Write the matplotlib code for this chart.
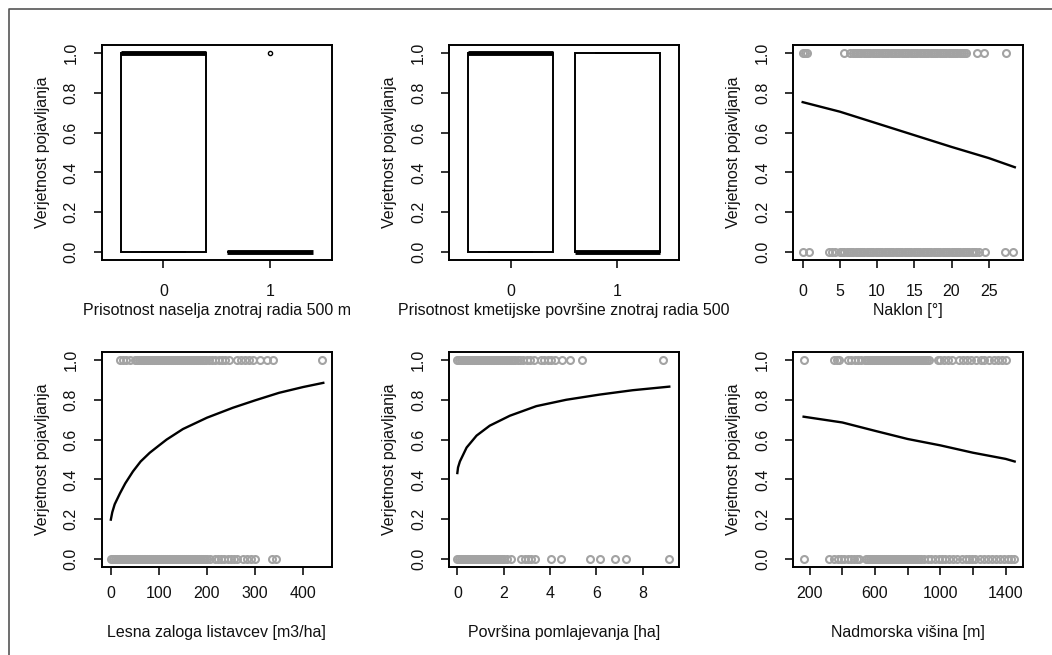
import numpy as np
import matplotlib
matplotlib.use("Agg")
import matplotlib.pyplot as plt
from matplotlib.lines import Line2D

plt.rcParams['font.family'] = ['Liberation Sans', 'DejaVu Sans']
plt.rcParams['font.size'] = 11.5

# ---- data ----
ylab = "Verjetnost pojavljanja"

# boxplots: counts of [absent (0), present (1)] per category 0 / 1
naselje_counts = [[45, 95], [20, 1]]
kmetije_counts = [[40, 100], [60, 40]]
box_cats = ["0", "1"]

# Naklon [deg]
naklon_y1 = [0.0, 0.3, 0.6, 5.5, 6.4, 6.7, 7.0, 7.3, 7.6, 7.9, 8.2, 8.5, 8.8, 9.1,
             9.4, 9.7, 10.0, 10.3, 10.6, 10.9, 11.2, 11.5, 11.8, 12.1, 12.4, 12.7,
             13.0, 13.3, 13.6, 13.9, 14.2, 14.5, 14.8, 15.1, 15.4, 15.7, 16.0, 16.3,
             16.6, 16.9, 17.2, 17.5, 17.8, 18.1, 18.4, 18.7, 19.0, 19.3, 19.6, 19.9,
             20.2, 20.5, 20.8, 21.1, 21.4, 21.7, 22.0, 23.4, 24.3, 27.3]
naklon_y0 = [0.0, 0.8, 3.5, 3.9, 4.3, 5.0, 5.3, 5.6, 5.9, 6.2, 6.5, 6.8, 7.1, 7.4,
             7.7, 8.0, 8.3, 8.6, 8.9, 9.2, 9.5, 9.8, 10.1, 10.4, 10.7, 11.0, 11.3,
             11.6, 11.9, 12.2, 12.5, 12.8, 13.1, 13.4, 13.7, 14.0, 14.3, 14.6, 14.9,
             15.2, 15.5, 15.8, 16.1, 16.4, 16.7, 17.0, 17.3, 17.6, 17.9, 18.2, 18.5,
             18.8, 19.1, 19.4, 19.7, 20.0, 20.3, 20.6, 20.9, 21.2, 21.5, 21.8, 22.1,
             22.4, 22.7, 23.0, 23.3, 23.7, 24.5, 27.2, 28.3]
naklon_cx = [0, 5, 10, 15, 20, 25, 28.5]
naklon_cy = [0.753, 0.705, 0.646, 0.587, 0.528, 0.472, 0.426]

# Lesna zaloga listavcev [m3/ha]
lesna_y1 = [19, 25, 32, 40, 50, 54, 58, 62, 66, 70, 74, 78, 82, 86, 90, 94, 98, 102,
            106, 110, 114, 118, 122, 126, 130, 134, 138, 142, 146, 150, 154, 158,
            162, 166, 170, 174, 178, 182, 186, 190, 194, 198, 204, 210, 217, 224,
            231, 238, 245, 262, 270, 280, 288, 296, 310, 324, 338, 440]
lesna_y0 = [0, 4, 8, 12, 16, 20, 24, 28, 32, 36, 40, 44, 48, 52, 56, 60, 64, 68, 72,
            76, 80, 84, 88, 92, 96, 100, 104, 108, 112, 116, 120, 124, 128, 132, 136,
            140, 144, 148, 152, 156, 160, 164, 168, 172, 176, 180, 184, 188, 192, 196,
            200, 206, 216, 222, 229, 236, 243, 250, 256, 262, 276, 284, 292, 300,
            335, 343]
lesna_cx = [0, 3, 8, 19, 30, 46, 62, 81, 100, 116, 150, 200, 254, 300, 350, 400, 442]
lesna_cy = [0.198, 0.235, 0.275, 0.33, 0.38, 0.44, 0.49, 0.534, 0.57, 0.60, 0.653,
            0.71, 0.76, 0.797, 0.835, 0.864, 0.885]

# Povrsina pomlajevanja [ha]
povrsina_y1 = [0.0, 0.08, 0.16, 0.24, 0.32, 0.4, 0.48, 0.56, 0.64, 0.72, 0.8, 0.88,
               0.96, 1.04, 1.12, 1.2, 1.28, 1.36, 1.44, 1.52, 1.6, 1.68, 1.76, 1.84,
               1.92, 2.0, 2.08, 2.16, 2.24, 2.32, 2.4, 2.5, 2.6, 2.7, 2.85, 3.0, 3.15,
               3.3, 3.6, 3.75, 3.9, 4.05, 4.2, 4.5, 4.85, 5.4, 8.86]
povrsina_y0 = [0.0, 0.08, 0.16, 0.24, 0.32, 0.4, 0.48, 0.56, 0.64, 0.72, 0.8, 0.88,
               0.96, 1.04, 1.12, 1.2, 1.28, 1.36, 1.44, 1.52, 1.6, 1.68, 1.76, 1.84,
               1.92, 2.0, 2.15, 2.3, 2.77, 2.9, 3.05, 3.2, 3.34, 4.06, 4.46, 5.73,
               6.14, 6.8, 7.3, 9.12]
povrsina_cx = [0, 0.03, 0.11, 0.4, 0.83, 1.4, 2.27, 3.41, 4.7, 6.14, 7.57, 9.15]
povrsina_cy = [0.432, 0.46, 0.49, 0.56, 0.62, 0.67, 0.72, 0.768, 0.80, 0.826, 0.848, 0.866]

# Nadmorska visina [m]
visina_y1 = [163, 352, 365, 379, 434, 455, 475, 495, 515, 536, 546, 558, 570, 582,
             594, 606, 618, 630, 642, 654, 666, 678, 690, 702, 714, 726, 738, 750,
             762, 774, 786, 798, 810, 822, 834, 846, 858, 870, 882, 894, 906, 918,
             932, 983, 1000, 1020, 1045, 1074, 1115, 1140, 1165, 1190, 1217, 1247,
             1270, 1300, 1330, 1355, 1380, 1400]
visina_y0 = [163, 318, 352, 372, 392, 412, 432, 452, 470, 490, 505, 546, 558, 570,
             582, 594, 606, 618, 630, 642, 654, 666, 678, 690, 702, 714, 726, 738,
             750, 762, 774, 786, 798, 810, 822, 834, 846, 858, 870, 881, 902, 925,
             945, 965, 990, 1010, 1030, 1055, 1080, 1105, 1135, 1156, 1175, 1195,
             1215, 1240, 1265, 1290, 1315, 1340, 1365, 1390, 1415, 1435, 1451]
visina_cx = [163, 400, 600, 800, 1000, 1200, 1400, 1455]
visina_cy = [0.715, 0.686, 0.644, 0.603, 0.571, 0.534, 0.503, 0.49]

# ---- figure ----
W, H = 1052, 655
fig = plt.figure(figsize=(W / 100, H / 100), dpi=100)
fig.add_artist(Line2D([9 / W, 9 / W, 1], [0, 1 - 9 / H, 1 - 9 / H],
                      transform=fig.transFigure, color='#555555', lw=1.2))


def add_ax(left, top):
    return fig.add_axes([left / W, 1 - (top + 215) / H, 230 / W, 215 / H])


def style(ax, xlabel, toprow):
    for s in ax.spines.values():
        s.set_linewidth(1.4)
    ax.set_ylim(-0.04, 1.04)
    yt = [0, 0.2, 0.4, 0.6, 0.8, 1.0]
    ax.set_yticks(yt)
    ax.set_yticklabels(["%.1f" % v for v in yt], rotation=90, va='center')
    ax.tick_params(direction='out', length=6, width=1.2, labelsize=11.5,
                   colors='#111111')
    ax.tick_params(axis='y', pad=10.5)
    ax.tick_params(axis='x', pad=11.5 if toprow else 8.0)
    ax.set_ylabel(ylab, fontsize=11.5, color='#111111')
    ax.yaxis.set_label_coords(-0.225, 0.5)
    ax.set_xlabel(xlabel, fontsize=11.5, color='#111111')
    ax.xaxis.set_label_coords(0.5, -0.2 if toprow else -0.268)


def boxpanel(ax, counts, xlabel):
    data = [np.repeat([0, 1], c) for c in counts]
    ax.boxplot(data, positions=[1, 2], widths=0.8, patch_artist=True, whis=1.5,
               boxprops=dict(facecolor='white', edgecolor='black', lw=1.4),
               medianprops=dict(color='black', lw=3.5, solid_capstyle='butt'),
               whiskerprops=dict(lw=1.4, ls='--'), capprops=dict(lw=1.4),
               flierprops=dict(marker='o', ms=3, mfc='none', mec='black', mew=1.0))
    ax.set_xlim(0.42, 2.58)
    ax.set_xticks([1, 2])
    ax.set_xticklabels(box_cats)
    style(ax, xlabel, True)


def scatpanel(ax, x1, x0, cx, cy, xlim, xticks, xticklabels, xlabel, toprow):
    pt = dict(ls='none', marker='o', mfc='none', mec='#a3a3a3', ms=5, mew=1.5)
    ax.plot(x1, np.ones(len(x1)), **pt)
    ax.plot(x0, np.zeros(len(x0)), **pt)
    ax.plot(cx, cy, color='black', lw=1.7)
    ax.set_xlim(*xlim)
    ax.set_xticks(xticks)
    ax.set_xticklabels(xticklabels)
    style(ax, xlabel, toprow)


ax1 = add_ax(101.7, 45)
boxpanel(ax1, naselje_counts, "Prisotnost naselja znotraj radia 500 m")

ax2 = add_ax(449, 45)
boxpanel(ax2, kmetije_counts, "Prisotnost kmetijske površine znotraj radia 500")

ax3 = add_ax(793, 45)
scatpanel(ax3, naklon_y1, naklon_y0, naklon_cx, naklon_cy, (-1.3, 29.6),
          [0, 5, 10, 15, 20, 25], ["0", "5", "10", "15", "20", "25"],
          "Naklon [°]", True)

ax4 = add_ax(101.7, 352)
scatpanel(ax4, lesna_y1, lesna_y0, lesna_cx, lesna_cy, (-19, 459.5),
          [0, 100, 200, 300, 400], ["0", "100", "200", "300", "400"],
          "Lesna zaloga listavcev [m3/ha]", False)

ax5 = add_ax(449, 352)
scatpanel(ax5, povrsina_y1, povrsina_y0, povrsina_cx, povrsina_cy, (-0.36, 9.57),
          [0, 2, 4, 6, 8], ["0", "2", "4", "6", "8"],
          "Površina pomlajevanja [ha]", False)

ax6 = add_ax(793, 352)
scatpanel(ax6, visina_y1, visina_y0, visina_cx, visina_cy, (98, 1506),
          [200, 400, 600, 800, 1000, 1200, 1400],
          ["200", "", "600", "", "1000", "", "1400"],
          "Nadmorska višina [m]", False)

fig.savefig("out.png", dpi=100)
